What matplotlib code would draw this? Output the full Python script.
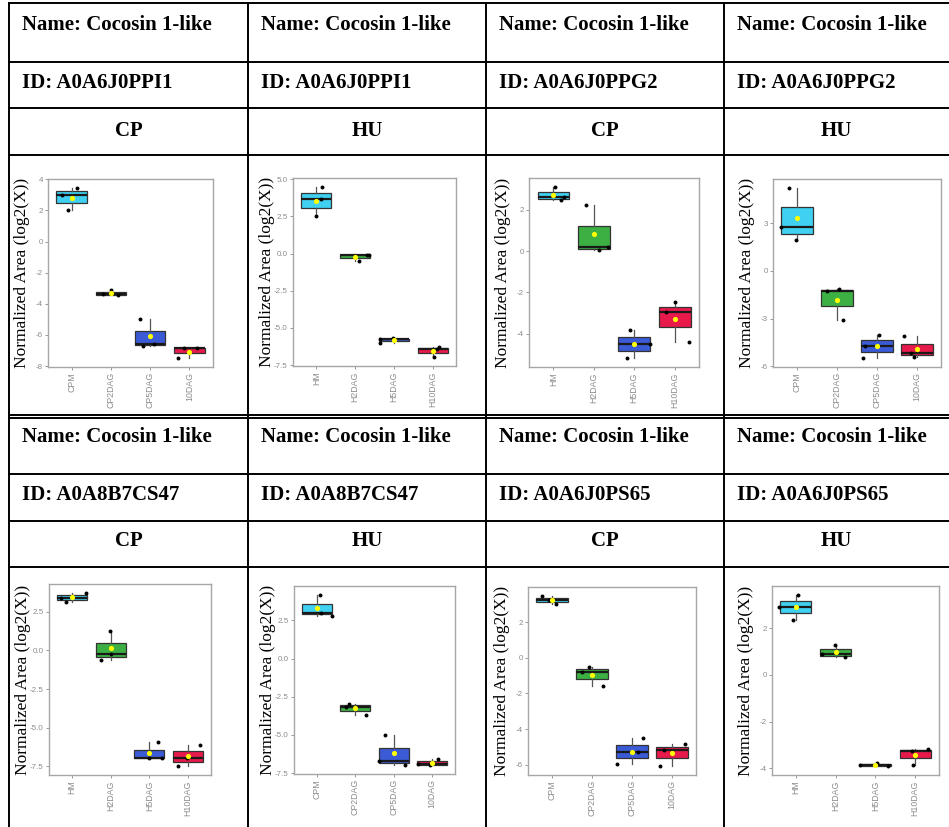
import numpy as np
import matplotlib
matplotlib.use('Agg')
import matplotlib.pyplot as plt

# ---- data ----
protein_names = ['Cocosin 1-like'] * 8
protein_ids = ['A0A6J0PPI1', 'A0A6J0PPI1', 'A0A6J0PPG2', 'A0A6J0PPG2',
               'A0A8B7CS47', 'A0A8B7CS47', 'A0A6J0PS65', 'A0A6J0PS65']
tissues = ['CP', 'HU', 'CP', 'HU', 'CP', 'HU', 'CP', 'HU']

cp_groups = ['CPM', 'CP2DAG', 'CP5DAG', '10DAG']
hu_groups = ['HM', 'H2DAG', 'H5DAG', 'H10DAG']
panel_groups = [cp_groups, hu_groups, hu_groups, cp_groups,
                hu_groups, cp_groups, cp_groups, hu_groups]

# three replicates per group (log2 normalized area)
vals_1 = [[3.47, 2.98, 2.02], [-3.38, -3.14, -3.46], [-4.96, -6.72, -6.58], [-7.51, -6.85, -6.83]]
vals_2 = [[4.51, 3.67, 2.51], [-0.49, -0.12, -0.07], [-6.05, -5.75, -5.70], [-6.30, -6.39, -6.99]]
vals_3 = [[3.13, 2.47, 2.63], [2.24, 0.04, 0.20], [-3.81, -5.20, -4.49], [-2.47, -2.95, -4.39]]
vals_4 = [[5.23, 2.73, 1.91], [-1.28, -1.15, -3.10], [-4.00, -4.72, -5.50], [-4.08, -5.16, -5.39]]
vals_5 = [[3.73, 3.41, 3.15], [1.25, -0.26, -0.63], [-5.94, -6.96, -6.96], [-6.10, -6.96, -7.50]]
vals_6 = [[4.19, 3.00, 2.80], [-2.95, -3.17, -3.67], [-5.01, -6.68, -6.96], [-6.55, -6.92, -7.00]]
vals_7 = [[3.49, 3.23, 3.02], [-0.51, -0.77, -1.57], [-4.51, -5.27, -5.98], [-4.83, -5.14, -6.09]]
vals_8 = [[3.44, 2.92, 2.36], [1.29, 0.90, 0.76], [-3.86, -3.79, -3.92], [-3.18, -3.25, -3.86]]
panel_vals = [vals_1, vals_2, vals_3, vals_4, vals_5, vals_6, vals_7, vals_8]

# horizontal jitter of the replicate dots (category units)
jit_1 = [[0.14, -0.24, -0.08], [-0.20, 0.01, 0.19], [-0.25, -0.19, 0.11], [-0.28, -0.14, 0.19]]
jit_2 = [[0.15, 0.11, -0.02], [0.11, 0.31, 0.37], [-0.36, -0.35, -0.03], [0.15, 0.11, 0.04]]
jit_3 = [[0.05, 0.18, 0.26], [-0.20, 0.13, 0.35], [-0.11, -0.18, 0.39], [0.00, -0.22, 0.35]]
jit_4 = [[-0.20, -0.41, -0.03], [-0.25, 0.06, 0.16], [0.04, -0.31, -0.34], [-0.32, -0.14, -0.07]]
jit_5 = [[0.37, -0.28, -0.15], [-0.03, 0.00, -0.26], [0.23, -0.02, 0.34], [0.32, -0.01, -0.26]]
jit_6 = [[0.07, 0.10, 0.39], [-0.17, -0.25, 0.29], [-0.22, -0.39, 0.30], [0.16, -0.37, -0.05]]
jit_7 = [[-0.26, -0.08, 0.09], [-0.08, -0.24, 0.28], [0.28, 0.14, -0.37], [0.33, -0.20, -0.30]]
jit_8 = [[0.06, -0.42, -0.08], [-0.02, -0.35, 0.23], [-0.38, 0.05, 0.32], [0.32, -0.07, -0.05]]
panel_jit = [jit_1, jit_2, jit_3, jit_4, jit_5, jit_6, jit_7, jit_8]

ticks_1 = [-8, -6, -4, -2, 0, 2, 4]
ticks_2 = [-7.5, -5.0, -2.5, 0.0, 2.5, 5.0]
ticks_3 = [-4, -2, 0, 2]
ticks_4 = [-6, -3, 0, 3]
ticks_5 = [-7.5, -5.0, -2.5, 0.0, 2.5]
ticks_6 = [-7.5, -5.0, -2.5, 0.0, 2.5]
ticks_7 = [-6, -4, -2, 0, 2]
ticks_8 = [-4, -2, 0, 2]
panel_ticks = [ticks_1, ticks_2, ticks_3, ticks_4, ticks_5, ticks_6, ticks_7, ticks_8]
tick_fmt = ['{:.0f}', '{:.1f}', '{:.0f}', '{:.0f}', '{:.1f}', '{:.1f}', '{:.0f}', '{:.0f}']

box_colors = ['#3fd0f2', '#3cb043', '#3b5bd6', '#e8194b']

# ---- layout (pixels) ----
W, H = 949, 827
fig = plt.figure(figsize=(W / 100, H / 100), dpi=100)
bg = fig.add_axes([0, 0, 1, 1])
bg.set_xlim(0, W)
bg.set_ylim(H, 0)
bg.axis('off')

for y in [3, 62, 108, 155, 415, 418, 474, 521, 567]:
    bg.plot([9, W], [y, y], color='black', lw=1.4, clip_on=False)
for x in [9, 248, 486, 724]:
    bg.plot([x, x], [3, H], color='black', lw=1.4, clip_on=False)

col_left = [9, 248, 486, 724]
col_right = [248, 486, 724, 949]
text_rows = [(25, 83, 131), (437, 495, 541)]
tfont = dict(family='Liberation Serif', fontweight='bold', fontsize=15, color='black')
for k in range(8):
    blk, c = divmod(k, 4)
    y_name, y_id, y_t = text_rows[blk]
    bg.text(col_left[c] + 13, y_name, 'Name: ' + protein_names[k], ha='left', va='center', **tfont)
    bg.text(col_left[c] + 13, y_id, 'ID: ' + protein_ids[k], ha='left', va='center', **tfont)
    bg.text((col_left[c] + col_right[c]) / 2, y_t, tissues[k], ha='center', va='center', **tfont)

axes_px = [(48, 179, 213, 367), (293, 178, 456, 366), (529, 178, 699, 367), (773, 179, 941, 367),
           (49, 584, 211, 775), (294, 586, 455, 774), (528, 587, 696, 775), (772, 586, 939, 775)]

for k in range(8):
    l, t, r, b = axes_px[k]
    ax = fig.add_axes([l / W, 1 - b / H, (r - l) / W, (b - t) / H])
    vals = panel_vals[k]
    pos = np.arange(1, 5)
    bp = ax.boxplot(vals, positions=pos, widths=0.78, patch_artist=True,
                    showcaps=False, showfliers=False,
                    boxprops=dict(edgecolor='#333333', linewidth=0.9),
                    medianprops=dict(color='#1a1a1a', linewidth=1.6),
                    whiskerprops=dict(color='#555555', linewidth=0.9))
    for patch, col in zip(bp['boxes'], box_colors):
        patch.set_facecolor(col)
    for i in range(4):
        ax.scatter(pos[i] + np.array(panel_jit[k][i]), vals[i], s=8, color='black', zorder=3, linewidths=0)
    ax.scatter(pos, [np.mean(v) for v in vals], s=14, color='#ffff00', zorder=4, linewidths=0)

    allv = np.concatenate(vals)
    lo, hi = allv.min(), allv.max()
    pad = 0.05 * (hi - lo)
    ax.set_ylim(lo - pad, hi + pad)
    ax.set_xlim(0.4, 4.6)
    ax.set_yticks(panel_ticks[k])
    ax.set_yticklabels([tick_fmt[k].format(v) for v in panel_ticks[k]])
    ax.set_xticks(pos)
    ax.set_xticklabels(panel_groups[k], rotation=90)
    ax.tick_params(length=2.5, width=0.6, color='#888888', labelcolor='#8c8c8c', pad=1.2)
    ax.tick_params(axis='x', labelsize=6.3)
    ax.tick_params(axis='y', labelsize=5.8)
    for lab in ax.get_xticklabels() + ax.get_yticklabels():
        lab.set_family('Liberation Sans')
    for sp in ax.spines.values():
        sp.set_color('#a6a6a6')
        sp.set_linewidth(1.0)
    ax.set_ylabel('Normalized Area (log2(X))', family='Liberation Serif', fontsize=12.5)
    ax.yaxis.set_label_coords(-18 / (r - l), 0.5)

fig.savefig('out.png', dpi=100)
